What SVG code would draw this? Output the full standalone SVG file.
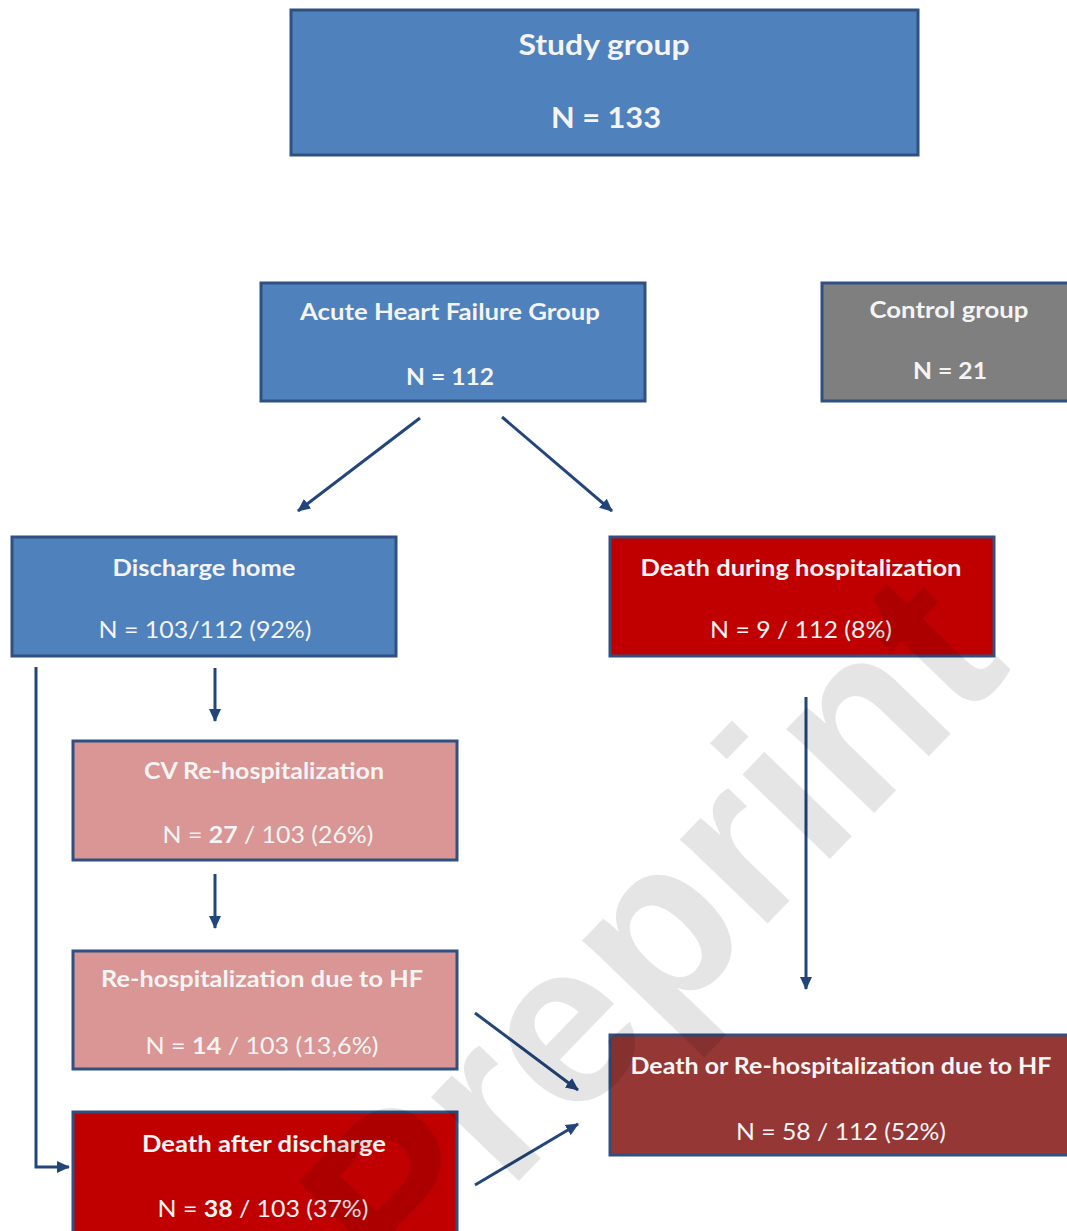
<svg xmlns="http://www.w3.org/2000/svg" width="1067" height="1231" viewBox="0 0 1067 1231">
<defs>
<style>
.box{stroke:#2f5080;stroke-width:3}
.blue{fill:#4f81bd}
.gray{fill:#7f7f7f}
.red{fill:#c00000}
.pink{fill:#d99694}
.dred{fill:#953735}
text{font-family:Lato,"Open Sans","Liberation Sans",sans-serif;fill:#f4f4f4;text-anchor:middle}
.t{font-weight:bold;font-size:23px}
.n{font-weight:normal;font-size:23px}
.b{font-weight:bold}
.big{font-weight:bold;font-size:28px}
.conn line,.conn path{stroke:#23467a;stroke-width:3;fill:none}
.wm{font-family:"Liberation Sans",Arial,sans-serif;font-weight:bold;font-size:230px;fill:#000;fill-opacity:0.1}
</style>
<marker id="ah" markerUnits="userSpaceOnUse" markerWidth="14" markerHeight="14" refX="12" refY="7" orient="auto">
<path d="M0,1 L13,7 L0,13 Z" fill="#23467a"/>
</marker>
</defs>
<rect width="1067" height="1231" fill="#ffffff"/>

<g id="study-group">
<rect class="box blue" x="291" y="10" width="627" height="145"/>
<text class="big" x="604" y="55" textLength="171" lengthAdjust="spacingAndGlyphs">Study group</text>
<text class="big" x="606" y="128" textLength="110" lengthAdjust="spacingAndGlyphs">N = 133</text>
</g>

<g id="ahf-group">
<rect class="box blue" x="261" y="283" width="384" height="118"/>
<text class="t" x="450" y="320" textLength="300" lengthAdjust="spacingAndGlyphs">Acute Heart Failure Group</text>
<text class="t" x="450" y="385" textLength="88" lengthAdjust="spacingAndGlyphs">N = 112</text>
</g>

<g id="control-group">
<rect class="box gray" x="822" y="283" width="250" height="118"/>
<text class="t" x="949" y="318" textLength="159" lengthAdjust="spacingAndGlyphs">Control group</text>
<text class="t" x="950" y="379" textLength="74" lengthAdjust="spacingAndGlyphs">N = 21</text>
</g>

<g id="discharge-home">
<rect class="box blue" x="12" y="537" width="384" height="119"/>
<text class="t" x="204" y="576" textLength="183" lengthAdjust="spacingAndGlyphs">Discharge home</text>
<text class="n" x="205" y="638" textLength="213" lengthAdjust="spacingAndGlyphs">N = 103/112 (92%)</text>
</g>

<g id="death-during-hospitalization">
<rect class="box red" x="610" y="537" width="384" height="119"/>
<text class="t" x="801" y="576" textLength="321" lengthAdjust="spacingAndGlyphs">Death during hospitalization</text>
<text class="n" x="801" y="638" textLength="182" lengthAdjust="spacingAndGlyphs">N = 9 / 112 (8%)</text>
</g>

<g id="cv-rehospitalization">
<rect class="box pink" x="73" y="741" width="384" height="119"/>
<text class="t" x="264" y="779" textLength="240" lengthAdjust="spacingAndGlyphs">CV Re-hospitalization</text>
<text class="n" x="268" y="843" textLength="211" lengthAdjust="spacingAndGlyphs">N = <tspan class="b">27</tspan> / 103 (26%)</text>
</g>

<g id="rehospitalization-hf">
<rect class="box pink" x="73" y="951" width="384" height="118"/>
<text class="t" x="262" y="987" textLength="322" lengthAdjust="spacingAndGlyphs">Re-hospitalization due to HF</text>
<text class="n" x="262" y="1054" textLength="233" lengthAdjust="spacingAndGlyphs">N = <tspan class="b">14</tspan> / 103 (13,6%)</text>
</g>

<g id="death-after-discharge">
<rect class="box red" x="73" y="1112" width="384" height="130"/>
<text class="t" x="264" y="1152" textLength="244" lengthAdjust="spacingAndGlyphs">Death after discharge</text>
<text class="n" x="263" y="1217" textLength="211" lengthAdjust="spacingAndGlyphs">N = <tspan class="b">38</tspan> / 103 (37%)</text>
</g>

<g id="death-or-rehospitalization">
<rect class="box dred" x="610" y="1035" width="470" height="120"/>
<text class="t" x="841" y="1074" textLength="421" lengthAdjust="spacingAndGlyphs">Death or Re-hospitalization due to HF</text>
<text class="n" x="841" y="1140" textLength="210" lengthAdjust="spacingAndGlyphs">N = 58 / 112 (52%)</text>
</g>

<g id="connectors" class="conn">
<line x1="420" y1="418" x2="298" y2="511" marker-end="url(#ah)"/>
<line x1="502" y1="417" x2="612" y2="511" marker-end="url(#ah)"/>
<line x1="215" y1="668" x2="215" y2="721" marker-end="url(#ah)"/>
<line x1="215" y1="874" x2="215" y2="928" marker-end="url(#ah)"/>
<path d="M36,667 L36,1167 L69,1167" marker-end="url(#ah)"/>
<line x1="806" y1="697" x2="806" y2="989" marker-end="url(#ah)"/>
<line x1="475" y1="1013" x2="578" y2="1090" marker-end="url(#ah)"/>
<line x1="475" y1="1185" x2="578" y2="1124" marker-end="url(#ah)"/>
</g>

<text class="wm" x="650" y="1010" transform="rotate(-46 650 930)">Preprint</text>
</svg>
